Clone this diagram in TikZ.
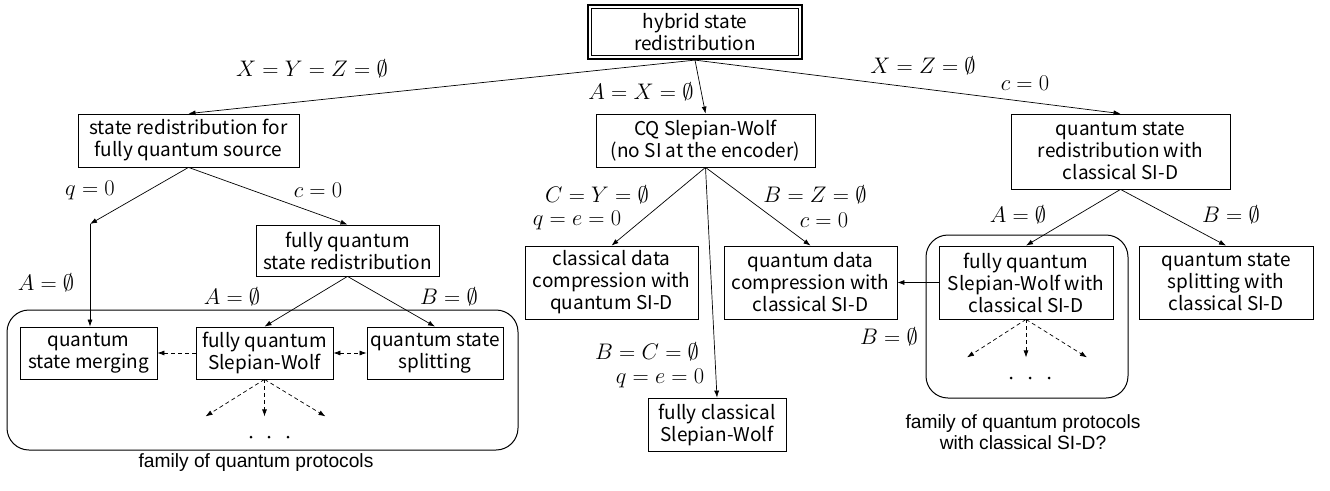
\documentclass[tikz,border=0pt]{standalone}
\usepackage{fix-cm}
\usepackage{fontspec}
\newfontfamily\boxfnt{Noto Sans CJK JP}
\newfontfamily\capfnt{Liberation Sans}
\usetikzlibrary{arrows.meta}
\begin{document}
\begin{tikzpicture}[x=1pt,y=-1pt,
 box/.style={draw, line width=0.8pt, inner sep=0pt, align=center, font=\boxfnt\fontsize{19}{22}\selectfont},
 lab/.style={inner sep=0pt, font=\fontsize{22.5}{26}\selectfont},
 captxt/.style={inner sep=0pt, align=center, font=\capfnt\fontsize{19.2}{21}\selectfont},
 arr/.style={-{Latex[length=7pt,width=5pt]}, line width=0.7pt},
 darr/.style={arr, dash pattern=on 4pt off 3pt},
 dlarr/.style={{Latex[length=7pt,width=5pt]}-{Latex[length=7pt,width=5pt]}, line width=0.7pt, dash pattern=on 4pt off 3pt},
 grp/.style={draw, line width=1pt, rounded corners=22pt},
 dotc/.style={fill, circle, inner sep=0pt, minimum size=3pt}
]
\useasboundingbox (0,0) rectangle (1330,490);

% groups
\draw[grp] (7,310) rectangle (518,450);
\draw[grp] (926,235) rectangle (1128,398);

% boxes
\node[box, line width=2.2pt, minimum width=214pt, minimum height=54pt] (hyb) at (695,32) {hybrid state\\redistribution};
\draw[line width=0.8pt] ([shift={(4.5pt,-4.5pt)}]hyb.north west) rectangle ([shift={(-4.5pt,4.5pt)}]hyb.south east);

\node[box, minimum width=221pt, minimum height=53pt] (srfq) at (188.5,140.5) {state redistribution for\\fully quantum source};
\node[box, minimum width=183pt, minimum height=51pt] (fqsr) at (347.5,250.5) {fully quantum\\state redistribution};
\node[box, minimum width=137pt, minimum height=52pt] (merge) at (88.5,353) {quantum\\state merging};
\node[box, minimum width=137pt, minimum height=52pt] (fqsw) at (264.5,353) {fully quantum\\Slepian-Wolf};
\node[box, minimum width=136pt, minimum height=52pt] (split) at (435,353) {quantum state\\splitting};

\node[box, minimum width=219pt, minimum height=53pt] (cq) at (705.5,140.5) {CQ Slepian-Wolf\\(no SI at the encoder)};
\node[box, minimum width=173pt, minimum height=73pt] (cdc) at (611.5,282.5) {classical data\\compression with\\quantum SI-D};
\node[box, minimum width=173pt, minimum height=73pt] (qdc) at (810.5,282.5) {quantum data\\compression with\\classical SI-D};
\node[box, minimum width=138pt, minimum height=53pt] (fcsw) at (717,424.5) {fully classical\\Slepian-Wolf};

\node[box, minimum width=219pt, minimum height=75pt] (qsrc) at (1120.5,151.5) {quantum state\\redistribution with\\classical SI-D};
\node[box, minimum width=174pt, minimum height=73pt] (fqswc) at (1026,282.5) {fully quantum\\Slepian-Wolf with\\classical SI-D};
\node[box, minimum width=174pt, minimum height=73pt] (splitc) at (1226,282.5) {quantum state\\splitting with\\classical SI-D};

% connectors
\draw[arr] (hyb.south) -- (srfq.north);
\draw[arr] (hyb.south) -- (cq.north);
\draw[arr] (hyb.south) -- (qsrc.north);

\coordinate (qc) at (90,224);
\draw[arr] (srfq.south) -- (qc);
\draw[arr] (qc) -- (merge.north -| qc);
\draw[arr] (srfq.south) -- (fqsr.north);
\draw[arr] (fqsr.south) -- (fqsw.north);
\draw[arr] (fqsr.south) -- (split.north);

\draw[arr] (cq.south) -- (cdc.north);
\draw[arr] (cq.south) -- (qdc.north);
\draw[arr] (cq.south) -- (fcsw.north);

\draw[arr] (qsrc.south) -- (fqswc.north);
\draw[arr] (qsrc.south) -- (splitc.north);
\draw[arr] (fqswc.west) -- (qdc.east);

\draw[darr] (fqsw.west) -- (merge.east);
\draw[dlarr] (fqsw.east) -- (split.west);

\coordinate (l1) at ([shift={(-59pt,-37pt)}]fqsw.south);
\coordinate (l2) at ([shift={(0pt,-37pt)}]fqsw.south);
\coordinate (l3) at ([shift={(61pt,-37pt)}]fqsw.south);
\draw[darr] (fqsw.south) -- (l1);
\draw[darr] (fqsw.south) -- (l2);
\draw[darr] (fqsw.south) -- (l3);
\coordinate (r1) at ([shift={(-59pt,-38pt)}]fqswc.south);
\coordinate (r2) at ([shift={(0pt,-38pt)}]fqswc.south);
\coordinate (r3) at ([shift={(61pt,-38pt)}]fqswc.south);
\draw[darr] (fqswc.south) -- (r1);
\draw[darr] (fqswc.south) -- (r2);
\draw[darr] (fqswc.south) -- (r3);

% dots
\node[dotc] (ld1) at (251,437) {};
\node[dotc] (ld2) at (269,437) {};
\node[dotc] (ld3) at (288,437) {};
\node[dotc] (rd1) at (1011,378) {};
\node[dotc] (rd2) at (1030,378) {};
\node[dotc] (rd3) at (1049,378) {};

% labels
\node[lab] (t1) at (312,69) {$X=Y=Z=\emptyset$};
\node[lab] (t2) at (641,92) {$A=X=\emptyset$};
\node[lab] (t3) at (923,66) {$X=Z=\emptyset$};
\node[lab] (t4) at (1025,83) {$c=0$};
\node[lab] (t5) at (90,190) {$q=0$};
\node[lab] (t6) at (318,190) {$c=0$};
\node[lab] (t7) at (46,283) {$A=\emptyset$};
\node[lab] (t8) at (232,297) {$A=\emptyset$};
\node[lab] (t9) at (449,297) {$B=\emptyset$};
\node[lab] (t10) at (597,195) {$C=Y=\emptyset$};
\node[lab] (t11) at (577,220) {$q=e=0$};
\node[lab] (t12) at (815,195) {$B=Z=\emptyset$};
\node[lab] (t13) at (824,220) {$c=0$};
\node[lab] (t14) at (647,352) {$B=C=\emptyset$};
\node[lab] (t15) at (660,378) {$q=e=0$};
\node[lab] (t16) at (1018,215) {$A=\emptyset$};
\node[lab] (t17) at (1231,215) {$B=\emptyset$};
\node[lab] (t18) at (889,337) {$B=\emptyset$};

% captions
\node[captxt] (c1) at (256,463) {family of quantum protocols};
\node[captxt] (c2) at (1023,432) {family of quantum protocols\\with classical SI-D?};
\end{tikzpicture}
\end{document}
